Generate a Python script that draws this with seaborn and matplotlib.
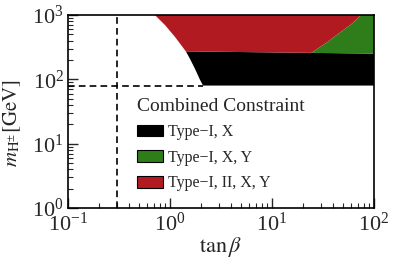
import numpy as np
import pandas as pd
import seaborn as sns
import matplotlib
matplotlib.use("Agg")
import matplotlib.pyplot as plt
from matplotlib.patches import Patch

# ---- data ----
# left edge of the allowed region, split at the top of the black band
red_edge_tanb = [0.71, 0.89, 1.12, 1.43]
red_edge_mass = [1000, 702, 456, 272]
black_edge_tanb = [1.43, 1.57, 1.76, 1.97, 2.11]
black_edge_mass = [272, 208, 145, 98, 80]
black_top_tanb = [1.43, 100.0]
black_top_mass = [272, 251]
green_edge_tanb = [24.3, 35.0, 45.6, 60.0, 74.8]
green_edge_mass = [255, 380, 523, 720, 1000]
vline_tanb = 0.3
hline_mass = 80
legend_labels = ["Type\u2212I, X", "Type\u2212I, X, Y", "Type\u2212I, II, X, Y"]
colors = ["#000000", "#2e7d1a", "#b11a21"]

sns.set_style("white")
plt.rcParams["font.family"] = ["Liberation Serif", "DejaVu Serif"]
plt.rcParams["mathtext.fontset"] = "stix"

fig = plt.figure(figsize=(3.98, 2.66), dpi=100)
ax = fig.add_axes([68/398, 1-208/266, 306/398, 193/266])
ax.set_xscale("log")
ax.set_yscale("log")

def top_at(t):
    lt = np.log10(black_top_tanb); lm = np.log10(black_top_mass)
    return 10 ** np.interp(np.log10(t), lt, lm)

x_max = 100.0
m_max = 1000.0

# black region
bx = black_edge_tanb + [x_max, x_max]
by = black_edge_mass + [hline_mass, black_top_mass[-1]]
ax.fill(bx, by, color=colors[0], lw=0)

# red region
rx = red_edge_tanb + green_edge_tanb
ry = red_edge_mass + [top_at(green_edge_tanb[0])] + green_edge_mass[1:]
ax.fill(rx, ry, color=colors[2], lw=0)

# green region
gx = green_edge_tanb + [x_max, x_max]
gy = [top_at(green_edge_tanb[0])] + green_edge_mass[1:] + [m_max, black_top_mass[-1]]
ax.fill(gx, gy, color=colors[1], lw=0)

# dashed lines
vl = pd.DataFrame({"x": [vline_tanb, vline_tanb], "y": [1, m_max]})
hl = pd.DataFrame({"x": [0.1, black_edge_tanb[-1]], "y": [hline_mass, hline_mass]})
for d in (vl, hl):
    sns.lineplot(data=d, x="x", y="y", ax=ax, color="black", lw=1.2,
                 linestyle=(0, (4, 2.5)), estimator=None, sort=False)

ax.set_xlim(0.1, x_max)
ax.set_ylim(1, m_max)

ax.tick_params(which="both", direction="in", top=False, right=False, bottom=True, left=True)
ax.tick_params(which="major", length=7, width=1, labelsize=16, pad=3)
ax.tick_params(which="minor", length=3.5, width=0.8)
for s in ax.spines.values():
    s.set_linewidth(1.2)
    s.set_color("black")

handles = [Patch(facecolor=c, edgecolor="black", lw=0.8) for c in colors]
leg = ax.legend(handles, legend_labels, title="Combined Constraint", loc="upper left",
                bbox_to_anchor=(0.19, 0.63), frameon=False, fontsize=11.5,
                title_fontsize=14, handlelength=1.6, handleheight=0.75,
                labelspacing=0.6, handletextpad=0.3, borderpad=0.2)
leg._legend_box.align = "left"
ax.set_xlabel(r"$\tan\beta$", fontsize=16, labelpad=0)
ax.set_ylabel(r"$m_{\mathrm{H}^{\pm}}[\mathrm{GeV}]$", fontsize=15)
ax.yaxis.set_label_coords(-0.148, 0.44)
fig.savefig("out.png", dpi=100)
